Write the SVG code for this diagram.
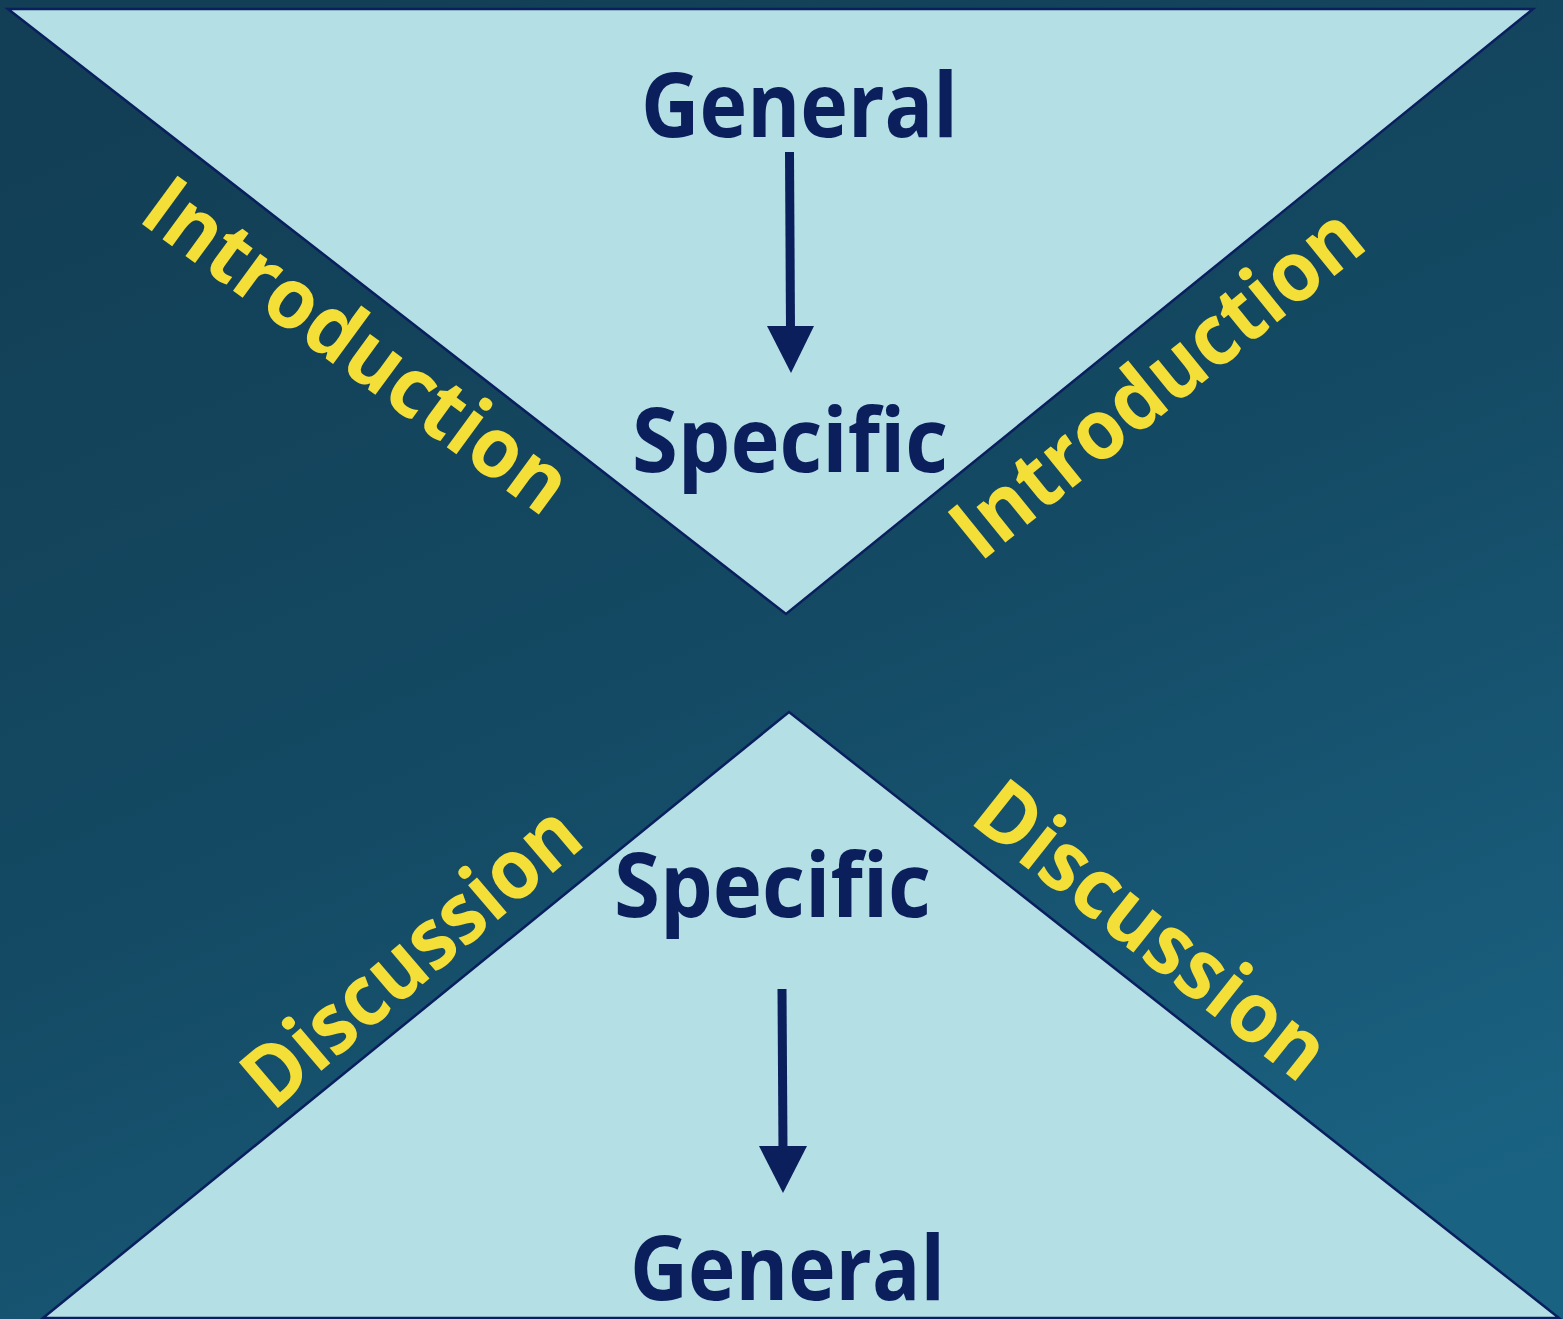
<svg xmlns="http://www.w3.org/2000/svg" width="1563" height="1319" viewBox="0 0 1563 1319">
  <defs>
    <linearGradient id="bg" x1="0.25" y1="0" x2="0.75" y2="1">
      <stop offset="0" stop-color="#123f55"/>
      <stop offset="0.5" stop-color="#144a64"/>
      <stop offset="1" stop-color="#1a6282"/>
    </linearGradient>
  </defs>
  <style>
    .tri { fill: #b4dfe5; stroke: #0a1f5e; stroke-width: 2.5; stroke-linejoin: miter; }
    .navy { font-family: "Open Sans", "Noto Sans", "Liberation Sans", sans-serif; font-weight: 700; font-size: 89px; fill: #0a1f5c; text-anchor: middle; }
    .yel { font-family: "Open Sans", "Noto Sans", "Liberation Sans", sans-serif; font-weight: 700; font-size: 84px; fill: #f3df38; text-anchor: middle; }
    .shaft { stroke: #0a1f5c; stroke-width: 9; fill: none; }
    .head { fill: #0a1f5c; }
  </style>
  <rect id="background" x="0" y="0" width="1563" height="1319" fill="url(#bg)"/>
  <g id="top-triangle">
    <polygon class="tri" points="8,9 1533,9 786,614"/>
  </g>
  <g id="bottom-triangle">
    <polygon class="tri" points="43,1318 789,712 1559,1318"/>
  </g>
  <g id="top-general"><text class="navy" x="799.5" y="137" textLength="317" lengthAdjust="spacingAndGlyphs">General</text></g>
  <g id="top-specific"><text class="navy" x="790" y="472" textLength="316" lengthAdjust="spacingAndGlyphs">Specific</text></g>
  <g id="bottom-specific"><text class="navy" x="772.5" y="917" textLength="317" lengthAdjust="spacingAndGlyphs">Specific</text></g>
  <g id="bottom-general"><text class="navy" x="787.5" y="1300" textLength="315" lengthAdjust="spacingAndGlyphs">General</text></g>
  <g id="intro-left"><text class="yel" transform="translate(340,369) rotate(36.2)" x="0" y="0" textLength="505" lengthAdjust="spacingAndGlyphs">Introduction</text></g>
  <g id="intro-right"><text class="yel" transform="translate(1175,405) rotate(-39)" x="0" y="0" textLength="502" lengthAdjust="spacingAndGlyphs">Introduction</text></g>
  <g id="disc-left"><text class="yel" transform="translate(430,978) rotate(-40.5)" x="0" y="0" textLength="414" lengthAdjust="spacingAndGlyphs">Discussion</text></g>
  <g id="disc-right"><text class="yel" transform="translate(1134,953) rotate(38.4)" x="0" y="0" textLength="424" lengthAdjust="spacingAndGlyphs">Discussion</text></g>
  <g id="connectors">
    <line class="shaft" x1="789.5" y1="152" x2="790.5" y2="330"/>
    <polygon class="head" points="767,326 814,326 791,373"/>
    <line class="shaft" x1="782" y1="989" x2="783" y2="1150"/>
    <polygon class="head" points="759,1146 807,1146 783,1193"/>
  </g>
</svg>
